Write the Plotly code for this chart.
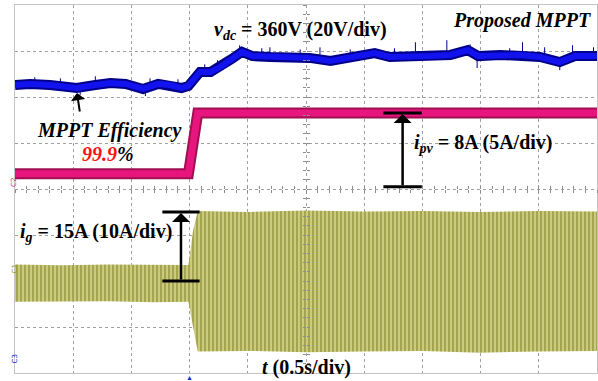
import numpy as np
import plotly.graph_objects as go

# ---------------- scope capture data ----------------
# time base: 0.5 s/div, 10 divisions (0 .. 5 s)
t_vdc = [0.00, 0.13, 0.30, 0.43, 0.53, 0.69, 0.82, 0.95, 1.10, 1.23, 1.33, 1.43, 1.49,
         1.59, 1.68, 1.76, 1.86, 1.95, 2.04, 2.19, 2.36, 2.53, 2.71, 2.84, 3.01, 3.09,
         3.22, 3.39, 3.57, 3.74, 3.89, 3.98, 4.17, 4.34, 4.51, 4.68, 4.81, 5.00]
vdc = [347.8, 348.3, 347.8, 347.4, 346.5, 347.8, 348.7, 348.3, 346.1, 348.3, 347.8, 346.5, 347.4,
       353.5, 353.5, 355.6, 359.1, 362.2, 360.4, 360.0, 360.0, 359.6, 358.3, 359.6, 360.9, 361.7,
       360.0, 360.0, 360.4, 360.9, 363.0, 360.4, 360.9, 360.9, 360.0, 357.8, 360.4, 360.4]

# switching spikes riding on the dc-link voltage (time, peak value)
t_vdc_spike = [0.17, 0.39, 0.69, 0.90, 1.16, 1.40, 1.63, 1.74, 1.93, 2.12, 2.19, 2.45, 2.62,
               2.88, 3.26, 3.44, 3.71, 3.91, 4.25, 4.36, 4.55, 4.79, 4.97,
               0.56, 1.12, 3.97, 4.68]
vdc_spike = [351.2, 350.7, 351.6, 350.3, 350.7, 350.3, 356.8, 358.6, 365.1, 363.8, 364.2, 363.3, 364.2,
             363.3, 363.8, 366.4, 367.3, 365.5, 363.8, 366.4, 364.2, 365.1, 364.2,
             343.5, 343.0, 355.2, 354.3]

# PV current: step at the MPPT start
t_ipv = [0.00, 1.49, 1.57, 5.00]
ipv = [1.4, 1.4, 8.0, 8.0]

# grid current envelope (upper / lower peaks)
t_ig = [0.00, 0.40, 0.80, 1.20, 1.49, 1.53, 1.57, 2.00, 2.50, 3.00, 3.50, 4.00, 4.50, 5.00]
ig_upper = [3.6, 3.4, 3.6, 3.5, 3.5, 11.0, 15.2, 15.0, 15.3, 15.1, 15.2, 15.0, 15.2, 15.1]
ig_lower = [-4.5, -4.5, -4.4, -4.6, -4.5, -10.0, -15.3, -15.2, -15.5, -15.3, -15.2, -15.6, -15.3, -15.2]

# values stated on the capture
IPV_STEP = 8.0   # A
IG_PEAK = 15.0   # A
T_TRIG = 1.495   # s

# ---------------- channel settings (scale per div, zero position in div) ----------------
CH3_SCALE, CH3_REF, CH3_REF_POS = 20.0, 360.0, 2.87   # vdc
CH2_SCALE, CH2_ZERO = 5.0, 0.05                        # ipv
CH1_SCALE, CH1_ZERO = 10.0, -2.0                       # ig


def ch3(v):
    return (np.asarray(v, float) - CH3_REF) / CH3_SCALE + CH3_REF_POS


def ch2(i):
    return np.asarray(i, float) / CH2_SCALE + CH2_ZERO


def ch1(i):
    return np.asarray(i, float) / CH1_SCALE + CH1_ZERO


BLUE, BLUE_EDGE = "#1212ee", "#00008a"
PINK, PINK_EDGE = "#e8157e", "#a01052"
OLIVE_DARK, OLIVE_LIGHT = "#666608", "#e4e49a"
SERIF = "Liberation Serif"
GRID = "#a0a0a0"

fig = go.Figure()

# grid current: striped band between its peak envelopes
fig.add_trace(go.Scatter(x=t_ig, y=ch1(ig_lower), mode="lines", line=dict(width=0),
                         hoverinfo="skip", showlegend=False))
fig.add_trace(go.Scatter(x=t_ig, y=ch1(ig_upper), mode="lines", line=dict(width=0),
                         fill="tonexty", fillcolor=OLIVE_LIGHT,
                         fillpattern=dict(shape="|", size=4, solidity=0.7,
                                          fgcolor=OLIVE_DARK, bgcolor=OLIVE_LIGHT),
                         hoverinfo="skip", showlegend=False))

# PV current
fig.add_trace(go.Scatter(x=t_ipv, y=ch2(ipv), mode="lines",
                         line=dict(color=PINK_EDGE, width=11), hoverinfo="skip", showlegend=False))
fig.add_trace(go.Scatter(x=t_ipv, y=ch2(ipv), mode="lines",
                         line=dict(color=PINK, width=7), hoverinfo="skip", showlegend=False))

# dc-link voltage with its spikes
base = np.interp(t_vdc_spike, t_vdc, vdc)
sx, sy = [], []
for t, b, p in zip(t_vdc_spike, base, vdc_spike):
    sx += [t, t, None]
    sy += [ch3(b), ch3(p), None]
fig.add_trace(go.Scatter(x=t_vdc, y=ch3(vdc), mode="lines",
                         line=dict(color=BLUE_EDGE, width=10), hoverinfo="skip", showlegend=False))
fig.add_trace(go.Scatter(x=sx, y=sy, mode="lines", line=dict(color=BLUE_EDGE, width=1),
                         hoverinfo="skip", showlegend=False))
fig.add_trace(go.Scatter(x=t_vdc, y=ch3(vdc), mode="lines",
                         line=dict(color=BLUE, width=6), hoverinfo="skip", showlegend=False))

# dummy traces so the centre-tick axes are drawn
for xa, ya in (("x2", "y"), ("x3", "y"), ("x", "y2"), ("x", "y3")):
    fig.add_trace(go.Scatter(x=[None], y=[None], xaxis=xa, yaxis=ya, showlegend=False,
                             hoverinfo="skip"))

# ---------------- dimension arrows ----------------
def dim_arrow(t, lo, hi, half_w):
    fig.add_shape(type="line", x0=t - half_w, x1=t + half_w, y0=hi, y1=hi,
                  line=dict(color="black", width=3))
    fig.add_shape(type="line", x0=t - half_w, x1=t + half_w, y0=lo, y1=lo,
                  line=dict(color="black", width=3))
    fig.add_annotation(x=t, y=hi, ax=t, ay=lo, xref="x", yref="y", axref="x", ayref="y",
                       text="", showarrow=True, arrowhead=1, arrowsize=1.2, arrowwidth=2.5,
                       arrowcolor="black", standoff=1)


dim_arrow(3.33, float(ch2(0)), float(ch2(IPV_STEP)), 0.165)
dim_arrow(1.426, float(ch1(0)), float(ch1(IG_PEAK)), 0.16)

# ---------------- text ----------------
def px(x):
    return (x - 15) / 582.0


def py(y):
    return (373 - y) / 368.0


def label(x, y, text, size=20, color="black"):
    fig.add_annotation(x=px(x), y=py(y), xref="paper", yref="paper", text=text, showarrow=False,
                       font=dict(family=SERIF, size=size, color=color),
                       xanchor="center", yanchor="middle")


label(300, 31, "<b><i>v</i><sub><i>dc</i></sub> = 360V (20V/div)</b>")
label(522, 20, "<b><i>Proposed MPPT</i></b>")
label(109, 130, "<b><i>MPPT Efficiency</i></b>")
label(108, 154, "<b><i><span style='color:#ff1010'>99.9</span>%</i></b>")
label(483, 143, "<b><i>i</i><sub><i>pv</i></sub> = 8A (5A/div)</b>")
label(96, 232, "<b><i>i</i><sub><i>g</i></sub> = 15A (10A/div)</b>")
label(306, 367, "<b><i>t</i> (0.5s/div)</b>")

# arrow pointing at the dc-link trace
fig.add_annotation(x=px(77), y=py(93), xref="paper", yref="paper", ax=3, ay=20, text="",
                   showarrow=True, arrowhead=1, arrowsize=1.2, arrowwidth=2, arrowcolor="black")

# channel reference markers
def marker(y, text, color):
    fig.add_annotation(x=px(8), y=py(y), xref="paper", yref="paper", text=text, showarrow=False,
                       textangle=-90, font=dict(family="DejaVu Sans", size=7, color=color))


marker(183, "C2", "#d0207f")
marker(276, "C1", "#9a9a20")
marker(366, "C3", "#2020d0")
fig.add_annotation(x=T_TRIG, y=0, xref="x", yref="paper", text="▲", showarrow=False,
                   yanchor="top", yshift=2, font=dict(size=7, color="#1030d0"))

# ---------------- axes / graticule ----------------
common = dict(showticklabels=False, zeroline=False, ticks="")
center = dict(showticklabels=False, showgrid=False, zeroline=False, showline=False,
              ticklen=3, tickcolor="#8c8c8c", tickwidth=1)
fig.update_layout(
    width=598, height=381,
    margin=dict(l=15, r=1, t=5, b=8),
    paper_bgcolor="white", plot_bgcolor="white",
    showlegend=False,
    xaxis=dict(range=[0, 5], tick0=0, dtick=0.5, showgrid=True, gridcolor=GRID, griddash="dot",
               gridwidth=1, showline=True, linecolor="#c4c4c4", mirror=True, **common),
    yaxis=dict(range=[-4, 4], tick0=-4, dtick=1, showgrid=True, gridcolor=GRID, griddash="dot",
               gridwidth=1, showline=True, linecolor="#c4c4c4", mirror=True, **common),
    xaxis2=dict(overlaying="x", anchor="free", position=0.5, range=[0, 5], tick0=0, dtick=0.1,
                ticks="outside", **center),
    xaxis3=dict(overlaying="x", anchor="free", position=0.5, range=[0, 5], tick0=0, dtick=0.1,
                ticks="inside", **center),
    yaxis2=dict(overlaying="y", anchor="free", position=0.5, range=[-4, 4], tick0=-4, dtick=0.2,
                ticks="outside", **center),
    yaxis3=dict(overlaying="y", anchor="free", position=0.5, range=[-4, 4], tick0=-4, dtick=0.2,
                ticks="inside", **center),
)

fig.write_html("out.html")
